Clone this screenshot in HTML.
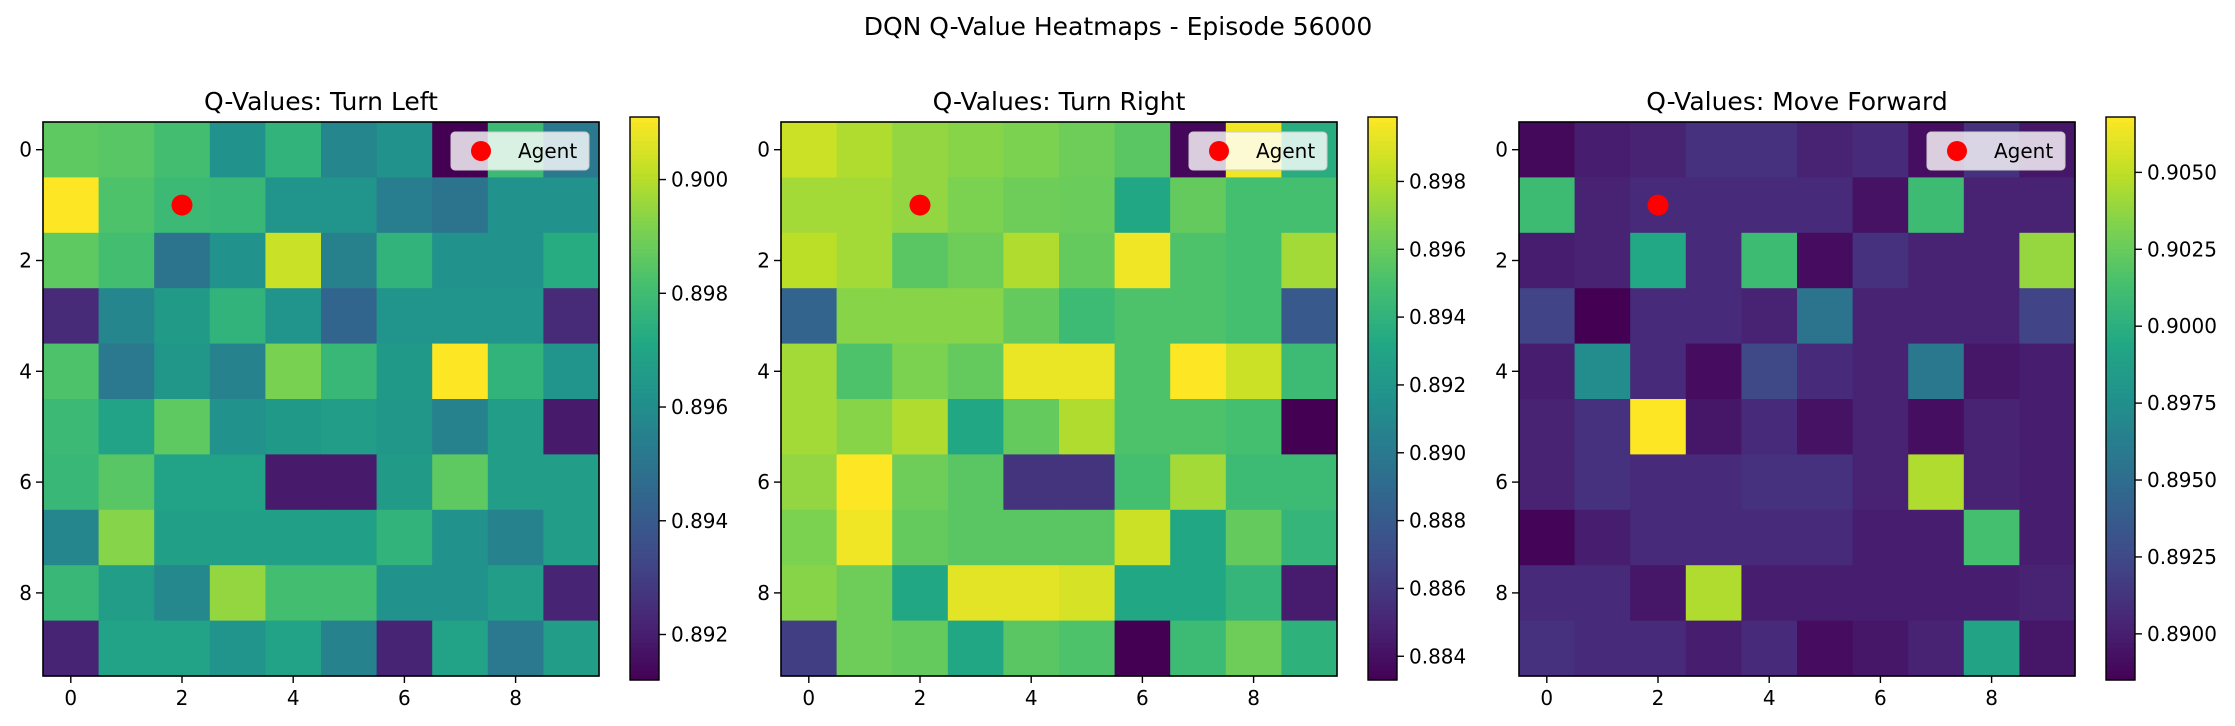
<!DOCTYPE html>
<html><head><meta charset="utf-8"><style>
html,body{margin:0;padding:0;background:#fff;}
svg{display:block;font-family:"DejaVu Sans","Liberation Sans",sans-serif;}
</style></head><body>
<svg id="fig" width="2235" height="726" viewBox="0 0 2235 726" xmlns="http://www.w3.org/2000/svg">
<text x="1118" y="35" font-size="25" text-anchor="middle" fill="#000">DQN Q-Value Heatmaps - Episode 56000</text>
</svg>
<script>
const rowLabels = [0,1,2,3,4,5,6,7,8,9];
const xTicks = [0,2,4,6,8];
const turnLeft = [
[0.8986,0.8985,0.8981,0.8962,0.8976,0.8957,0.8962,0.8912,0.8979,0.8952],
[0.9011,0.8983,0.8979,0.8978,0.8963,0.8963,0.8954,0.8950,0.8962,0.8962],
[0.8986,0.8981,0.8950,0.8962,0.9003,0.8955,0.8976,0.8962,0.8962,0.8973],
[0.8924,0.8957,0.8966,0.8976,0.8963,0.8944,0.8963,0.8963,0.8963,0.8924],
[0.8983,0.8952,0.8964,0.8956,0.8991,0.8978,0.8965,0.9011,0.8976,0.8963],
[0.8979,0.8969,0.8986,0.8962,0.8965,0.8967,0.8964,0.8956,0.8967,0.8919],
[0.8978,0.8985,0.8969,0.8969,0.8919,0.8919,0.8966,0.8986,0.8967,0.8967],
[0.8957,0.8993,0.8968,0.8968,0.8968,0.8968,0.8976,0.8962,0.8956,0.8967],
[0.8978,0.8967,0.8958,0.8995,0.8981,0.8981,0.8962,0.8962,0.8967,0.8922],
[0.8922,0.8969,0.8969,0.8963,0.8969,0.8956,0.8922,0.8969,0.8952,0.8967]];
const turnRight = [
[0.8986,0.8979,0.8972,0.8969,0.8966,0.8962,0.8956,0.8836,0.8996,0.8936],
[0.8976,0.8976,0.8972,0.8966,0.8962,0.8961,0.8932,0.8959,0.8949,0.8949],
[0.8982,0.8976,0.8956,0.8962,0.8979,0.8959,0.8996,0.8952,0.8949,0.8976],
[0.8886,0.8969,0.8969,0.8969,0.8959,0.8946,0.8952,0.8952,0.8949,0.8879],
[0.8976,0.8952,0.8966,0.8959,0.8994,0.8994,0.8952,0.8999,0.8986,0.8946],
[0.8976,0.8969,0.8979,0.8932,0.8959,0.8979,0.8952,0.8952,0.8949,0.8833],
[0.8972,0.8999,0.8962,0.8956,0.8858,0.8858,0.8949,0.8976,0.8946,0.8946],
[0.8966,0.8996,0.8959,0.8956,0.8956,0.8956,0.8986,0.8932,0.8959,0.8942],
[0.8969,0.8962,0.8932,0.8992,0.8992,0.8989,0.8932,0.8932,0.8942,0.8846],
[0.8863,0.8962,0.8959,0.8932,0.8956,0.8952,0.8833,0.8946,0.8962,0.8939]];
const moveForward = [
[0.8889,0.8900,0.8903,0.8911,0.8911,0.8903,0.8907,0.8892,0.8911,0.8896],
[0.9010,0.8903,0.8907,0.8907,0.8907,0.8907,0.8894,0.9010,0.8903,0.8903],
[0.8900,0.8903,0.8995,0.8907,0.9010,0.8891,0.8911,0.8903,0.8903,0.9039],
[0.8922,0.8885,0.8907,0.8907,0.8903,0.8955,0.8903,0.8903,0.8903,0.8922],
[0.8900,0.8973,0.8907,0.8891,0.8925,0.8907,0.8903,0.8958,0.8896,0.8900],
[0.8903,0.8911,0.9068,0.8896,0.8907,0.8894,0.8903,0.8892,0.8903,0.8900],
[0.8903,0.8911,0.8907,0.8907,0.8911,0.8911,0.8903,0.9046,0.8903,0.8900],
[0.8887,0.8900,0.8907,0.8907,0.8907,0.8907,0.8900,0.8900,0.9013,0.8900],
[0.8907,0.8907,0.8896,0.9046,0.8900,0.8900,0.8900,0.8900,0.8900,0.8903],
[0.8911,0.8907,0.8907,0.8900,0.8907,0.8891,0.8896,0.8903,0.8991,0.8896]];
const agentPos = [2,1];
const cbTicksLeft = [0.892,0.894,0.896,0.898,0.900];
const cbTicksRight = [0.884,0.886,0.888,0.890,0.892,0.894,0.896,0.898];
const cbTicksForward = [0.8900,0.8925,0.8950,0.8975,0.9000,0.9025,0.9050];

const VIR=["#440154","#482475","#414487","#355f8d","#2a788e","#21918c","#22a884","#44bf70","#7ad151","#bddf26","#fde725"];
function hx(c){return [1,3,5].map(i=>parseInt(c.substr(i,2),16));}
function viridis(t){t=Math.max(0,Math.min(1,t));const f=t*10,i=Math.min(9,Math.floor(f)),r=f-i;const a=hx(VIR[i]),b=hx(VIR[i+1]);return `rgb(${a.map((v,k)=>Math.round(v+(b[k]-v)*r)).join(',')})`;}
const NS="http://www.w3.org/2000/svg";
const svg=document.getElementById('fig');
function mk(tag,attrs,parent){const e=document.createElementNS(NS,tag);for(const k in attrs)e.setAttribute(k,attrs[k]);(parent||svg).appendChild(e);return e;}

const panels=[
 {title:"Q-Values: Turn Left",data:turnLeft,ticks:cbTicksLeft,dec:3,ax:43,cb:630,key:"turn-left"},
 {title:"Q-Values: Turn Right",data:turnRight,ticks:cbTicksRight,dec:3,ax:781,cb:1368,key:"turn-right"},
 {title:"Q-Values: Move Forward",data:moveForward,ticks:cbTicksForward,dec:4,ax:1519,cb:2106,key:"move-forward"}];
const AY=122,AW=556,AH=554,CBT=117,CBB=680,CBW=29;

panels.forEach(p=>{
  const g=mk('g',{});
  
  
  const flat=p.data.flat();const vmin=Math.min(...flat),vmax=Math.max(...flat);
  const nr=p.data.length,nc=p.data[0].length;
  const cw=AW/nc,ch=AH/nr;
  const xs=c=>p.ax+(c+0.5)*cw, ys=r=>AY+(r+0.5)*ch;
  p.data.forEach((row,r)=>row.forEach((v,c)=>{
    const rc=mk('rect',{x:p.ax+c*cw,y:AY+r*ch,width:cw+0.6,height:ch+0.6,fill:viridis((v-vmin)/(vmax-vmin))},g);
    
    
  }));
  const fr=mk('rect',{x:p.ax,y:AY,width:AW,height:AH,fill:'none',stroke:'#000','stroke-width':1.6},g);
  
  
  const t=mk('text',{x:p.ax+AW/2,y:110,'font-size':25,'text-anchor':'middle'},g);t.textContent=p.title;
  
  
  xTicks.forEach(v=>{
    mk('line',{x1:xs(v),x2:xs(v),y1:AY+AH,y2:AY+AH+7,stroke:'#000','stroke-width':1.4},g);
    const tx=mk('text',{x:xs(v),y:AY+AH+29,'font-size':20,'text-anchor':'middle'},g);tx.textContent=v;
    
    
    mk('line',{x1:p.ax,x2:p.ax-7,y1:ys(v),y2:ys(v),stroke:'#000','stroke-width':1.4},g);
    const ty=mk('text',{x:p.ax-11,y:ys(v)+7,'font-size':20,'text-anchor':'end'},g);ty.textContent=rowLabels[v];
    
    
  });
  const ag=mk('circle',{cx:xs(agentPos[0]),cy:ys(agentPos[1]),r:10.5,fill:'#ff0000'},g);
  
  
  const lx=p.ax+AW-148,ly=AY+10;
  const lg=mk('g',{},g);
  
  
  mk('rect',{x:lx,y:ly,width:138,height:38,rx:4,fill:'rgba(255,255,255,0.8)',stroke:'#cccccc','stroke-width':1},lg);
  mk('circle',{cx:lx+30,cy:ly+19,r:10,fill:'#ff0000'},lg);
  const lt=mk('text',{x:lx+67,y:ly+26,'font-size':20},lg);lt.textContent='Agent';
  
  
  const cg=mk('g',{},g);
  
  
  const N=120,sh=(CBB-CBT)/N;
  for(let i=0;i<N;i++){mk('rect',{x:p.cb,y:CBB-(i+1)*sh,width:CBW,height:sh+0.6,fill:viridis((i+0.5)/N)},cg);}
  mk('rect',{x:p.cb,y:CBT,width:CBW,height:CBB-CBT,fill:'none',stroke:'#000','stroke-width':1.4},cg);
  const cy=v=>CBB-(v-vmin)/(vmax-vmin)*(CBB-CBT);
  p.ticks.forEach(v=>{
    mk('line',{x1:p.cb+CBW,x2:p.cb+CBW+7,y1:cy(v),y2:cy(v),stroke:'#000','stroke-width':1.4},cg);
    const tt=mk('text',{x:p.cb+CBW+12,y:cy(v)+7,'font-size':20},cg);tt.textContent=v.toFixed(p.dec);
    
    
  });
});
</script>
</body></html>
